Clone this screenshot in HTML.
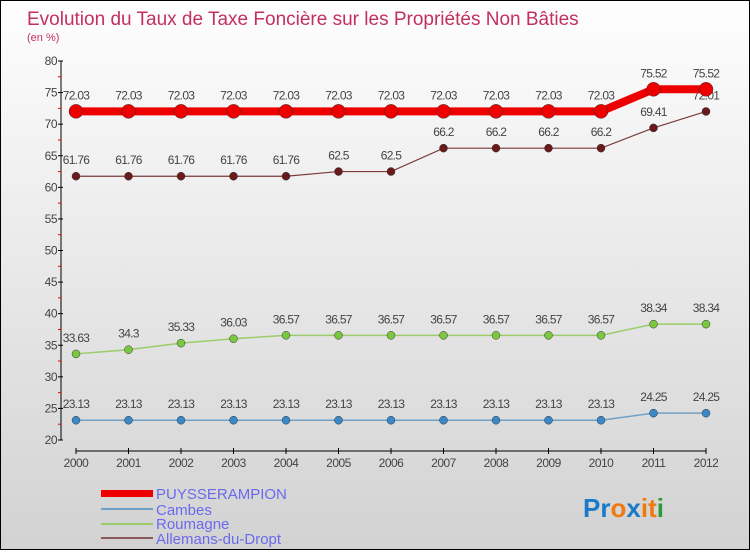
<!DOCTYPE html>
<html><head><meta charset="utf-8"><style>
html,body{margin:0;padding:0}
body{width:750px;height:550px;overflow:hidden;font-family:"Liberation Sans",sans-serif}
#wrap{position:absolute;left:0;top:0;width:748px;height:548px;border:1px solid #000;background:linear-gradient(#fefefe,#d2d2d2)}
</style></head><body>
<div id="wrap">
<svg id="chart" width="748" height="548" font-family="Liberation Sans, sans-serif">
<text x="26" y="24" font-size="19" fill="#c4305e">Evolution du Taux de Taxe Foncière sur les Propriétés Non Bâties</text>
<text x="26" y="40" font-size="11" fill="#c4305e">(en %)</text>
<g id="axes"></g>
<g id="series"></g>
<g id="legend">
<rect x="100" y="489" width="52" height="7" fill="#e00"/>
<text x="155" y="498" font-size="15" fill="#6a6aee">PUYSSERAMPION</text>
<rect x="100" y="507" width="52" height="2" fill="#6fa0c8"/>
<text x="155" y="514" font-size="15" fill="#6a6aee">Cambes</text>
<rect x="100" y="522" width="52" height="2" fill="#9acd6a"/>
<text x="155" y="528" font-size="15" fill="#6a6aee">Roumagne</text>
<rect x="100" y="536" width="52" height="2" fill="#8a5a5a"/>
<text x="155" y="543" font-size="15" fill="#6a6aee">Allemans-du-Dropt</text>
</g>
<g font-size="26" font-weight="bold">
<text x="582" y="516"><tspan fill="#1a7ac8">Pr</tspan><tspan fill="#f07a10">o</tspan><tspan fill="#1a7ac8">x</tspan><tspan fill="#f07a10">i</tspan><tspan fill="#f07a10">t</tspan><tspan fill="#2a9a3a">i</tspan></text>
</g>
</svg>
</div>
<script>
const years=["2000","2001","2002","2003","2004","2005","2006","2007","2008","2009","2010","2011","2012"];
const puysserampion=[72.03,72.03,72.03,72.03,72.03,72.03,72.03,72.03,72.03,72.03,72.03,75.52,75.52];
const allemans=[61.76,61.76,61.76,61.76,61.76,62.5,62.5,66.2,66.2,66.2,66.2,69.41,72.01];
const roumagne=[33.63,34.3,35.33,36.03,36.57,36.57,36.57,36.57,36.57,36.57,36.57,38.34,38.34];
const cambes=[23.13,23.13,23.13,23.13,23.13,23.13,23.13,23.13,23.13,23.13,23.13,24.25,24.25];
const yTicks=[20,25,30,35,40,45,50,55,60,65,70,75,80];
const NS="http://www.w3.org/2000/svg";
const x0=75,x1=705,yTop=60,yBot=439,vMin=20,vMax=80;
function xs(i){return x0+(x1-x0)*i/(years.length-1);}
function ys(v){return yBot-(v-vMin)/(vMax-vMin)*(yBot-yTop);}
function mk(tag,attrs,parent){const e=document.createElementNS(NS,tag);for(const k in attrs)e.setAttribute(k,attrs[k]);parent.appendChild(e);return e;}
const axes=document.getElementById('axes');
let a=mk('line',{x1:60,y1:yTop,x2:60,y2:yBot,stroke:'#000','stroke-width':1},axes);


a=mk('line',{x1:x0,y1:450,x2:x1,y2:450,stroke:'#000','stroke-width':1},axes);


yTicks.forEach(v=>{
  const y=ys(v);
  mk('line',{x1:57,y1:y,x2:62,y2:y,stroke:'#000'},axes);
  if(v<80) mk('line',{x1:57,y1:ys(v+2.5),x2:60,y2:ys(v+2.5),stroke:'#e00'},axes);
  const t=mk('text',{x:56,y:y+4,'font-size':12,fill:'#444','text-anchor':'end','letter-spacing':'-0.5'},axes);
  t.textContent=v;
  
  
});
years.forEach((yr,i)=>{
  const x=xs(i);
  mk('line',{x1:x,y1:447,x2:x,y2:453,stroke:'#000'},axes);
  const t=mk('text',{x:x,y:466,'font-size':12,fill:'#444','text-anchor':'middle','letter-spacing':'-0.5'},axes);
  t.textContent=yr;
  
  
});
const ser=document.getElementById('series');
function draw(vals,name,color,w,r,dot){
  const g=mk('g',{},ser);
  
  
  const p=mk('polyline',{points:vals.map((v,i)=>xs(i)+','+ys(v)).join(' '),fill:'none',stroke:color,'stroke-width':w},g);
  
  
  vals.forEach((v,i)=>{
    const c=mk('circle',{cx:xs(i),cy:ys(v),r:r,fill:dot,stroke:'#333','stroke-width':0.5},g);
    
    
    const t=mk('text',{x:xs(i),y:ys(v)-12,'font-size':12,fill:'#444','text-anchor':'middle','letter-spacing':'-0.7'},g);
    t.textContent=String(v);
    
    
  });
}
draw(cambes,'cambes','#6fa0c8',1.5,4,'#3a88c8');
draw(roumagne,'roumagne','#9acd6a',1.5,4,'#7ac840');
draw(allemans,'allemans-du-dropt','#7a3a3a',1.2,4,'#6a1a1a');
draw(puysserampion,'puysserampion','#e00',8,7,'#e00');
</script>
</body></html>
